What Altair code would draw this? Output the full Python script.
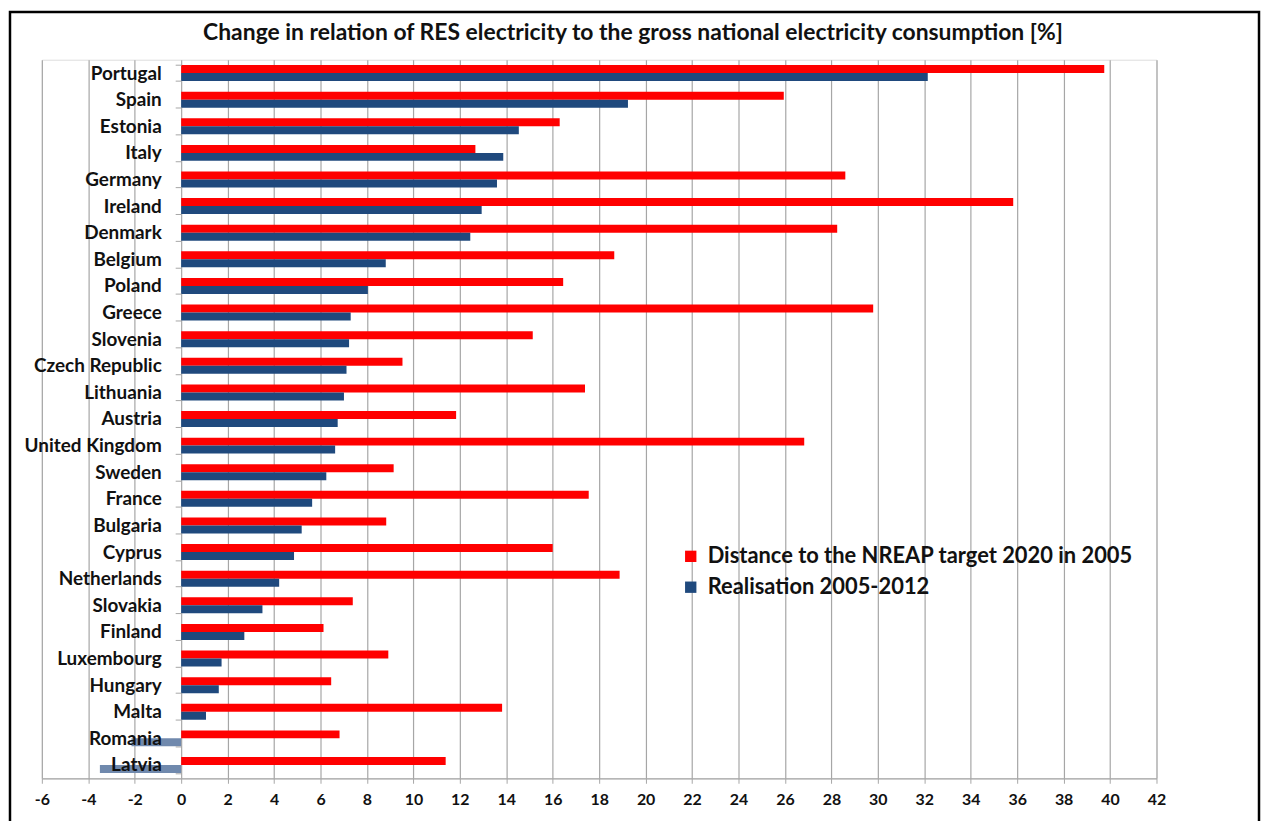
import altair as alt
import pandas as pd

countries = ["Portugal", "Spain", "Estonia", "Italy", "Germany", "Ireland", "Denmark",
             "Belgium", "Poland", "Greece", "Slovenia", "Czech Republic", "Lithuania",
             "Austria", "United Kingdom", "Sweden", "France", "Bulgaria", "Cyprus",
             "Netherlands", "Slovakia", "Finland", "Luxembourg", "Hungary", "Malta",
             "Romania", "Latvia"]
distance_2005 = [39.75, 25.95, 16.3, 12.67, 28.6, 35.83, 28.25, 18.65, 16.45, 29.8,
                 15.14, 9.53, 17.39, 11.84, 26.83, 9.15, 17.55, 8.83, 16.0, 18.88,
                 7.39, 6.13, 8.92, 6.46, 13.82, 6.82, 11.39]
realisation = [32.15, 19.24, 14.54, 13.87, 13.6, 12.94, 12.45, 8.81, 8.04, 7.3,
               7.23, 7.12, 7.01, 6.74, 6.63, 6.25, 5.64, 5.19, 4.86, 4.22,
               3.5, 2.72, 1.74, 1.62, 1.07, -2.14, -3.5]
series_names = ["Distance to the NREAP target 2020 in 2005", "Realisation 2005-2012"]
series_colors = ["#FF0000", "#1F497D"]
x_ticks = list(range(-6, 43, 2))
title_text = "Change in relation of RES electricity to the gross national electricity consumption [%]"

rows = []
for c, d, r in zip(countries, distance_2005, realisation):
    rows.append({"country": c, "series": series_names[0], "value": d})
    rows.append({"country": c, "series": series_names[1], "value": r})
df = pd.DataFrame(rows)

FONT = "Lato"
GRID = "#A6A6A6"

bars = alt.Chart(df).mark_bar().encode(
    y=alt.Y("country:N", sort=countries,
            scale=alt.Scale(paddingInner=0.4, paddingOuter=0.2),
            axis=alt.Axis(title=None, offset=-140, domain=False, tickBand="extent",
                          tickColor=GRID, tickSize=6, labelPadding=14, labelLimit=0,
                          labelFont=FONT, labelFontSize=19, labelFontWeight="bold",
                          labelColor="#111111", zindex=1)),
    yOffset=alt.YOffset("series:N", sort=series_names),
    x=alt.X("value:Q", scale=alt.Scale(domain=[-6, 42], nice=False, zero=False),
            axis=alt.Axis(title=None, values=x_ticks, grid=True, gridColor=GRID,
                          gridWidth=1.2, domainColor=GRID, domainWidth=1.2,
                          tickColor=GRID, tickSize=5, labelPadding=8,
                          labelExpr="datum.value < 0 ? '-' + abs(datum.value) : '' + datum.value",
                          labelFont=FONT, labelFontSize=16, labelFontWeight="bold",
                          labelColor="#111111", labelFlush=False)),
    color=alt.condition(
        "datum.value < 0",
        alt.value("#7089AD"),
        alt.Color("series:N", sort=series_names,
                  scale=alt.Scale(domain=series_names, range=series_colors),
                  legend=alt.Legend(title=None, orient="none", legendX=641, legendY=488,
                                    symbolType="square", symbolSize=130,
                                    symbolStrokeWidth=0, labelFont=FONT,
                                    labelFontSize=22, labelFontWeight="bold",
                                    labelColor="#111111", labelLimit=0,
                                    labelOffset=6, rowPadding=9)),
    ),
)

frame = alt.Chart(pd.DataFrame({"f": [0]})).mark_rect(
    fill="white", fillOpacity=0, stroke="black", strokeWidth=2.5
).encode(
    x=alt.value(-32), x2=alt.value(1223), y=alt.value(-48), y2=alt.value(774)
)

chart = alt.layer(bars, frame).properties(
    width=1120,
    height=722,
    padding=0,
    title=alt.TitleParams(title_text, font=FONT, fontSize=23, fontWeight="bold",
                          anchor="middle", offset=-34, dx=34, color="#111111"),
).configure_view(stroke=None).configure(background="white")

chart.save("out.html", embed_options={"renderer": "svg", "actions": False})
